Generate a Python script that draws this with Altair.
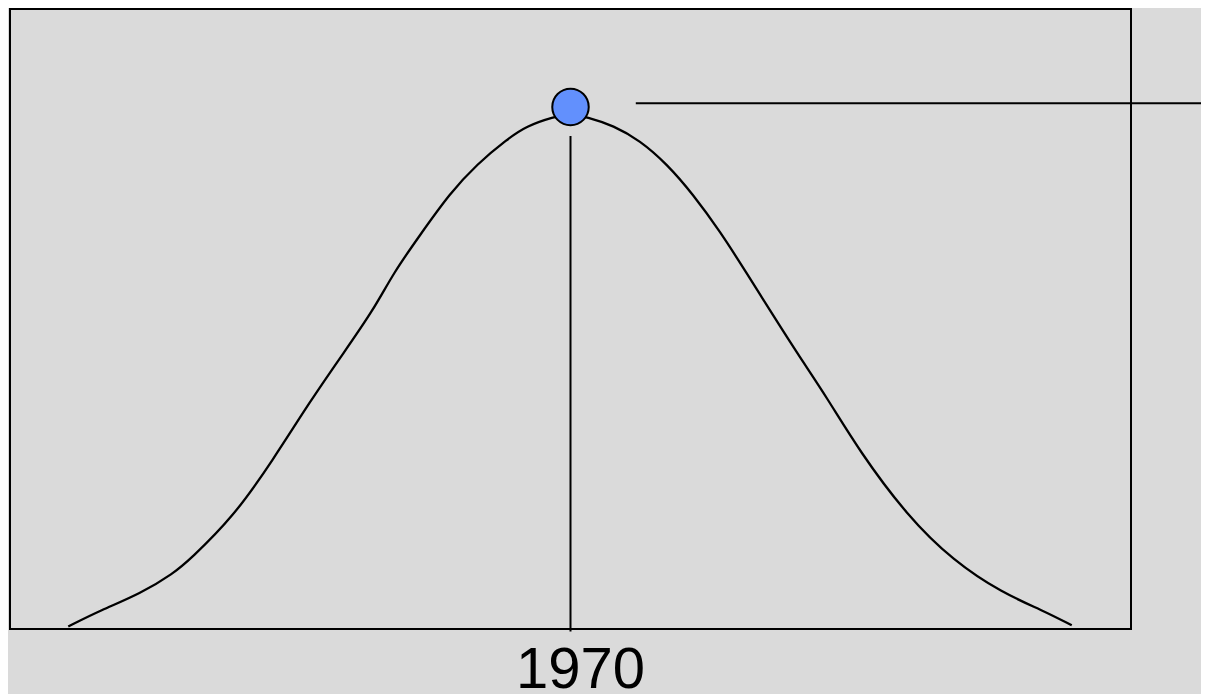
import altair as alt
import pandas as pd

# Bell curve (year, relative value 0-100)
years = [1920.0, 1923.2, 1927.2, 1930.5, 1932.1, 1936.4, 1940.4, 1944.1, 1947.4,
         1950.4, 1952.4, 1955.0, 1958.0, 1960.7, 1963.7, 1965.6, 1968.3, 1970.0,
         1971.6, 1974.3, 1976.9, 1979.6, 1982.2, 1984.9, 1987.5, 1990.2,
         1992.8, 1995.5, 1998.8, 2003.5, 2008.1, 2013.0, 2017.0, 2019.9]
values = [0.4, 3.0, 5.7, 9.0, 11.2, 18.0, 27.3, 36.8, 44.5,
          51.5, 57.5, 63.5, 70.3, 75.0, 79.0, 81.1, 82.6, 83.1,
          82.6, 81.2, 78.8, 75.0, 70.1, 64.1, 57.5, 50.5,
          43.9, 37.4, 28.6, 18.3, 11.0, 5.8, 3.0, 0.6]

peak_year = [1970]
peak_value = [84.2]
peak_label = ["1970"]

# annotation lines
vline_year = [1970]
vline_top = [79.5]
vline_bottom = [-0.4]
hline_start = [1976.5]
hline_end = [2034.0]
hline_value = [84.8]
label_value = [-9.5]

curve = pd.DataFrame({"year": years, "value": values})
peak = pd.DataFrame({"year": peak_year, "value": peak_value, "label": peak_label})
vline = pd.DataFrame({"year": vline_year, "top": vline_top, "bottom": vline_bottom})
hline = pd.DataFrame({"x1": hline_start, "x2": hline_end, "value": hline_value})
label = pd.DataFrame({"year": peak_year, "value": label_value, "label": peak_label})

xs = alt.Scale(domain=[1914.2, 2025.8], nice=False, zero=False)
ys = alt.Scale(domain=[0, 100], nice=False, zero=False)

line = alt.Chart(curve).mark_line(color="black", strokeWidth=2.3, interpolate="basis").encode(
    x=alt.X("year:Q", scale=xs, axis=None),
    y=alt.Y("value:Q", scale=ys, axis=None),
)

vrule = alt.Chart(vline).mark_rule(color="black", strokeWidth=2).encode(
    x=alt.X("year:Q", scale=xs, axis=None),
    y=alt.Y("top:Q", scale=ys, axis=None),
    y2="bottom:Q",
)

hrule = alt.Chart(hline).mark_rule(color="black", strokeWidth=2).encode(
    x=alt.X("x1:Q", scale=xs, axis=None),
    x2="x2:Q",
    y=alt.Y("value:Q", scale=ys, axis=None),
)

dot = alt.Chart(peak).mark_point(
    shape="circle", filled=True, fill="#6290fd", stroke="black", strokeWidth=2,
    size=1330, opacity=1,
).encode(
    x=alt.X("year:Q", scale=xs, axis=None),
    y=alt.Y("value:Q", scale=ys, axis=None),
)

text = alt.Chart(label).mark_text(
    font="Liberation Sans", fontSize=58, color="black", align="center",
    baseline="alphabetic", dx=10,
).encode(
    x=alt.X("year:Q", scale=xs, axis=None),
    y=alt.Y("value:Q", scale=ys, axis=None),
    text="label:N",
)

chart = alt.layer(line, vrule, hrule, dot, text).properties(
    width=1121,
    height=620,
    autosize="none",
    padding={"left": 2, "top": 1, "right": 70, "bottom": 65},
    background="#dadada",
).configure_view(
    stroke="black",
    strokeWidth=2,
    fill="#dadada",
)

chart.save("out.html", embed_options={"renderer": "svg", "actions": False})
